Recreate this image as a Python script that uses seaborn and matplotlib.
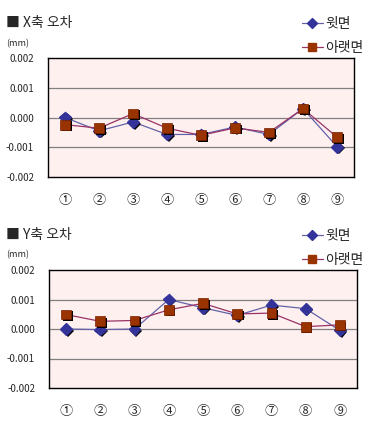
import matplotlib
matplotlib.use("Agg")
import matplotlib.pyplot as plt
import matplotlib.patheffects as pe
from matplotlib.lines import Line2D
import seaborn as sns
import pandas as pd

categories = ["①", "②", "③", "④", "⑤", "⑥", "⑦", "⑧", "⑨"]
x_top = [0.0, -0.00045, -0.00015, -0.00057, -0.00057, -0.00032, -0.00057, 0.00030, -0.00098]
x_bottom = [-0.00024, -0.00036, 0.00013, -0.00036, -0.00060, -0.00035, -0.00050, 0.00030, -0.00066]
y_top = [0.0, -0.00002, 0.0, 0.00100, 0.00072, 0.00046, 0.00081, 0.00069, -0.00005]
y_bottom = [0.00049, 0.00026, 0.00029, 0.00065, 0.00087, 0.00051, 0.00054, 0.00008, 0.00014]
yticks = [-0.002, -0.001, 0.0, 0.001, 0.002]
ytick_labels = ["-0.002", "-0.001", "0.000", "0.001", "0.002"]
series_names = ["윗면", "아랫면"]
titles = ["■ X축 오차", "■ Y축 오차"]

sns.set_theme(style="white")
FONT = ["Noto Sans CJK KR", "DejaVu Sans"]
plt.rcParams["font.family"] = FONT

C_TOP_M = "#333399"
C_TOP_L = "#6262a8"
C_BOT_M = "#993300"
C_BOT_L = "#993366"

fig = plt.figure(figsize=(3.71, 4.26), dpi=100)

specs = [
    dict(rect=[48/371, (426-177)/426, 306/371, 119/426], top=x_top, bot=x_bottom,
         title=titles[0], title_y=23, mm_y=44, leg_y=(25, 47)),
    dict(rect=[49/371, (426-388)/426, 308/371, 118/426], top=y_top, bot=y_bottom,
         title=titles[1], title_y=235, mm_y=255, leg_y=(237, 260)),
]

def fy(py):
    return 1 - py / 426

def fx(px):
    return px / 371

shadow = [pe.SimplePatchShadow(offset=(1.2, -1.2), shadow_rgbFace="black", alpha=1.0), pe.Normal()]

for s in specs:
    ax = fig.add_axes(s["rect"])
    ax.set_facecolor("#fff0f0")
    df = pd.DataFrame({"pos": range(len(categories)), "top": s["top"], "bot": s["bot"]})
    sns.lineplot(data=df, x="pos", y="top", ax=ax, color=C_TOP_L, lw=0.9, zorder=3)
    sns.lineplot(data=df, x="pos", y="bot", ax=ax, color=C_BOT_L, lw=0.9, zorder=3)
    ax.plot(df["pos"], df["top"], ls="none", marker="D", ms=6, mfc=C_TOP_M, mec=C_TOP_M,
            zorder=4, path_effects=shadow)
    ax.plot(df["pos"], df["bot"], ls="none", marker="s", ms=7, mfc=C_BOT_M, mec="#7a2000",
            mew=0.5, zorder=5, path_effects=shadow)
    ax.set_xlim(-0.5, len(categories) - 0.5)
    ax.set_ylim(-0.002, 0.002)
    ax.set_yticks(yticks)
    ax.set_yticklabels(ytick_labels, fontsize=7)
    ax.set_xticks(range(len(categories)))
    ax.set_xticklabels(categories, fontsize=9.5)
    ax.tick_params(axis="x", length=0, pad=12)
    ax.tick_params(axis="y", length=0, pad=10)
    ax.set_xlabel("")
    ax.set_ylabel("")
    for yv in yticks[1:-1]:
        ax.axhline(yv, color="#808080", lw=0.9, zorder=1)
    for sp in ax.spines.values():
        sp.set_color("black")
        sp.set_linewidth(1.0)
    fig.text(fx(6), fy(s["title_y"]), s["title"], fontsize=10, va="center", ha="left")
    fig.text(fx(6), fy(s["mm_y"]), "(mm)", fontsize=6.5, va="center", ha="left")
    handles = [
        Line2D([], [], color=C_TOP_L, lw=0.9, marker="D", ms=5, mfc=C_TOP_M, mec=C_TOP_M),
        Line2D([], [], color=C_BOT_L, lw=0.9, marker="s", ms=6, mfc=C_BOT_M, mec=C_BOT_M),
    ]
    fig.legend(handles, series_names, loc="upper left",
               bbox_to_anchor=(fx(302), fy(s["leg_y"][0] - 8)), frameon=False,
               fontsize=10, handlelength=1.5, handletextpad=0.15, labelspacing=0.7,
               borderpad=0, borderaxespad=0)

fig.savefig("out.png", dpi=100)
